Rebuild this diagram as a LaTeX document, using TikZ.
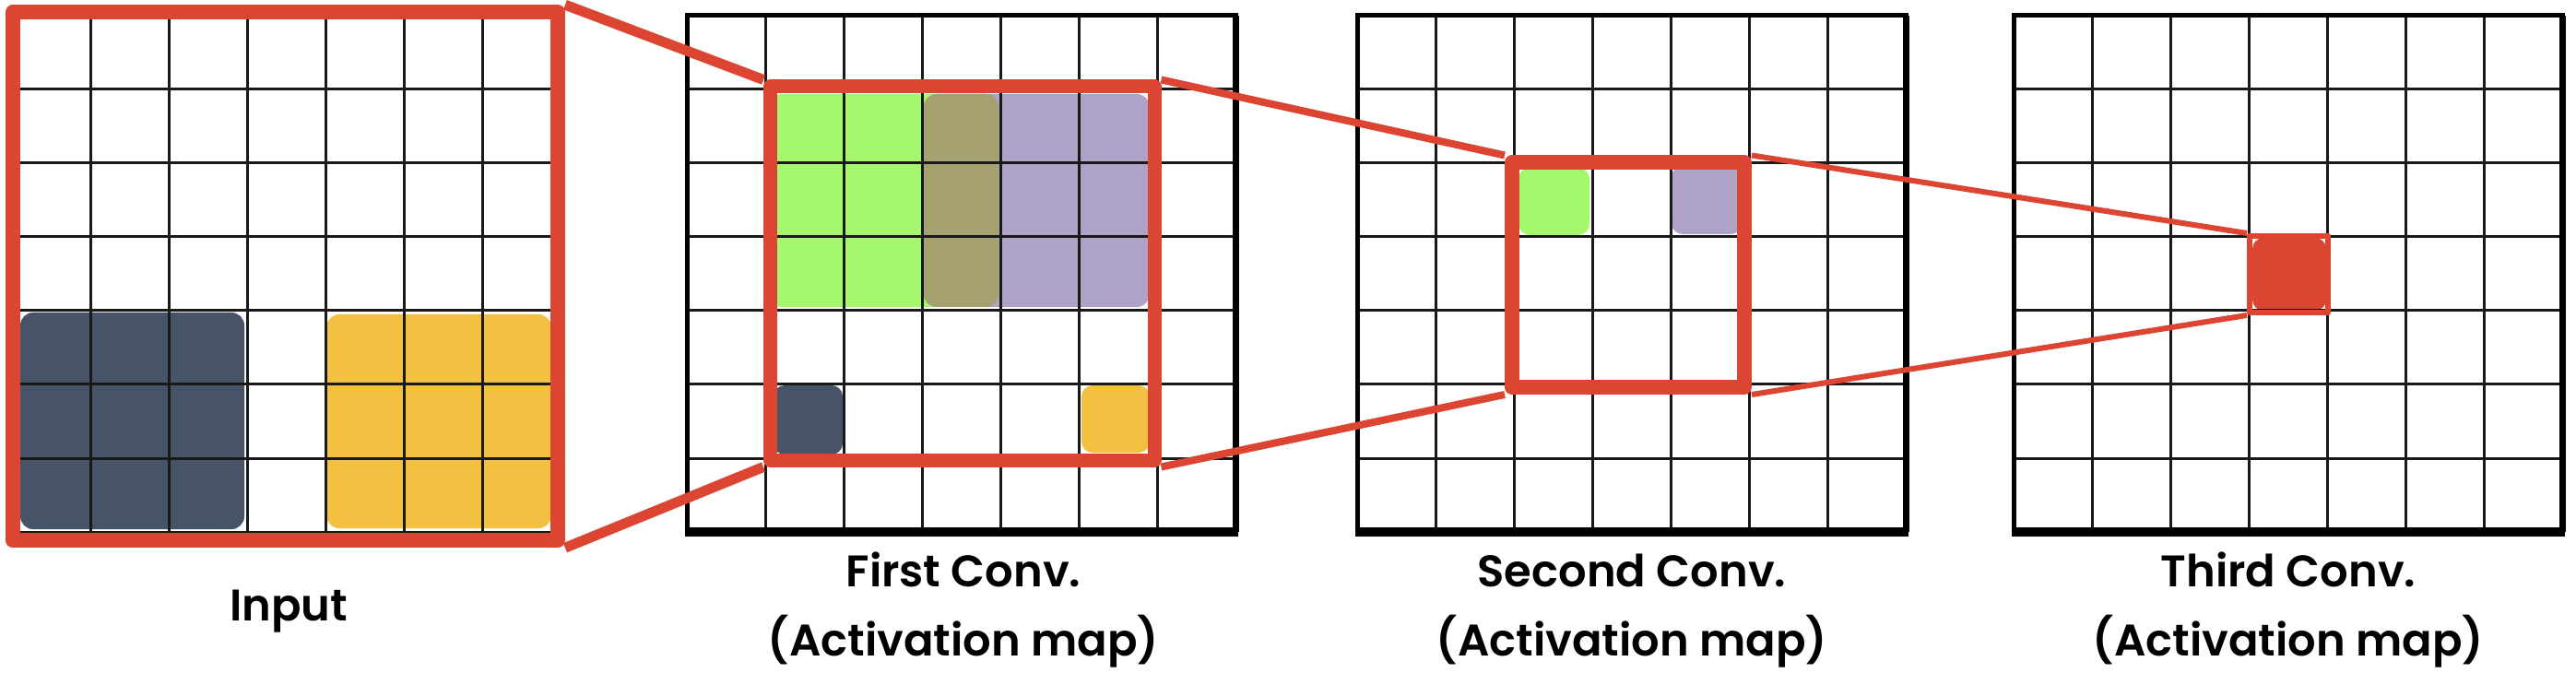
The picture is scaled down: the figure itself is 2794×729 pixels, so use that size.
\documentclass[tikz,border=0pt]{standalone}
\usepackage{fontspec}
\setmainfont{Poppins}[BoldFont={Poppins SemiBold}]
\usepackage{tikz}
\usepackage{xcolor}
\usetikzlibrary{positioning}

\definecolor{convred}{RGB}{219,69,49}
\definecolor{actslate}{RGB}{71,84,104}
\definecolor{actamber}{RGB}{244,192,66}
\definecolor{actlime}{RGB}{165,247,110}
\definecolor{actlilac}{RGB}{174,163,198}
\definecolor{actolive}{RGB}{165,161,112}

\begin{document}
\begin{tikzpicture}[x=1pt, y=1pt,
    mapcells/.style={draw=black!90, line width=3pt, xstep=85, ystep=80},
    mapedge/.style={draw=black, line width=5pt},
    rfwin/.style={draw=convred, line join=round, inner sep=0pt},
    rflink/.style={draw=convred},
    actpatch/.style={rounded corners=14pt},
    mapcaption/.style={font=\fontsize{48}{75}\selectfont\bfseries, align=center, inner sep=0pt, anchor=base}]

    \useasboundingbox (0,0) rectangle (2794,729);

    % input
    \fill[actpatch, actslate] (22,155) rectangle (265,390);
    \fill[actpatch, actamber] (354,156) rectangle (598,388);

    % first conv
    \fill[actpatch, actlime] (835,396) rectangle (1083,627);
    \fill[actpatch, actlilac] (1002,396) rectangle (1247,627);
    \fill[actpatch, actolive] (1002,396) rectangle (1083,627);
    \fill[actpatch, actslate, rounded corners=12pt] (839,236) rectangle (914,311);
    \fill[actpatch, actamber, rounded corners=12pt] (1173,238) rectangle (1247,311);

    % second conv
    \fill[actpatch, actlime, rounded corners=12pt] (1647,474) rectangle (1724,547);
    \fill[actpatch, actlilac, rounded corners=12pt] (1813,475) rectangle (1889,549);

    % third conv
    \fill[actpatch, convred, rounded corners=12pt] (2443,392) rectangle (2523,471);

    % grids
    \begin{scope}[shift={(13,152)}]
        \draw[mapcells] (0,0) grid (596,561);
    \end{scope}
    \begin{scope}[shift={(745,152)}]
        \draw[mapcells] (0,0) grid (596,561);
    \end{scope}
    \begin{scope}[shift={(1472,152)}]
        \draw[mapcells] (0,0) grid (596,561);
    \end{scope}
    \begin{scope}[shift={(2184,152)}]
        \draw[mapcells] (0,0) grid (596,561);
    \end{scope}

    \draw[mapedge] (745,152) rectangle (1340,712);
    \draw[mapedge, line width=10pt] (742.5,152) -- (1342.5,152);
    \draw[mapedge, line width=7pt] (1340,152) -- (1340,712);

    \draw[mapedge] (1472,152) rectangle (2067,712);
    \draw[mapedge, line width=10pt] (1469.5,152) -- (2069.5,152);
    \draw[mapedge, line width=7pt] (2067,152) -- (2067,712);

    \draw[mapedge] (2184,152) rectangle (2779,712);
    \draw[mapedge, line width=10pt] (2181.5,152) -- (2781.5,152);
    \draw[mapedge, line width=7pt] (2779,152) -- (2779,712);

    % receptive fields
    \node[rfwin, line width=16pt, minimum width=591pt, minimum height=573pt] (inwin) at (309.5,429.3) {};
    \node[rfwin, line width=15pt, minimum width=416.5pt, minimum height=405pt] (win1) at (1043.75,432.5) {};
    \node[rfwin, line width=16pt, minimum width=252pt, minimum height=243.5pt] (win2) at (1766,430.75) {};
    \node[rfwin, line width=6pt, minimum width=85pt, minimum height=83pt] (win3) at (2482.5,431.5) {};

    \draw[rflink, line width=11pt] (inwin.north east) -- (win1.north west);
    \draw[rflink, line width=11pt] (inwin.south east) -- (win1.south west);
    \draw[rflink, line width=8pt] (win1.north east) -- (win2.north west);
    \draw[rflink, line width=8pt] (win1.south east) -- (win2.south west);
    \draw[rflink, line width=6pt] (win2.north east) -- (win3.north west);
    \draw[rflink, line width=6pt] (win2.south east) -- (win3.south west);

    % captions
    \node[mapcaption] (incap) at (313,56) {Input};
    \node[mapcaption] (cap1) at (1045,18) {First Conv.\\(Activation map)};
    \node[mapcaption] (cap2) at (1770,18) {Second Conv.\\(Activation map)};
    \node[mapcaption] (cap3) at (2482,18) {Third Conv.\\(Activation map)};
\end{tikzpicture}
\end{document}
